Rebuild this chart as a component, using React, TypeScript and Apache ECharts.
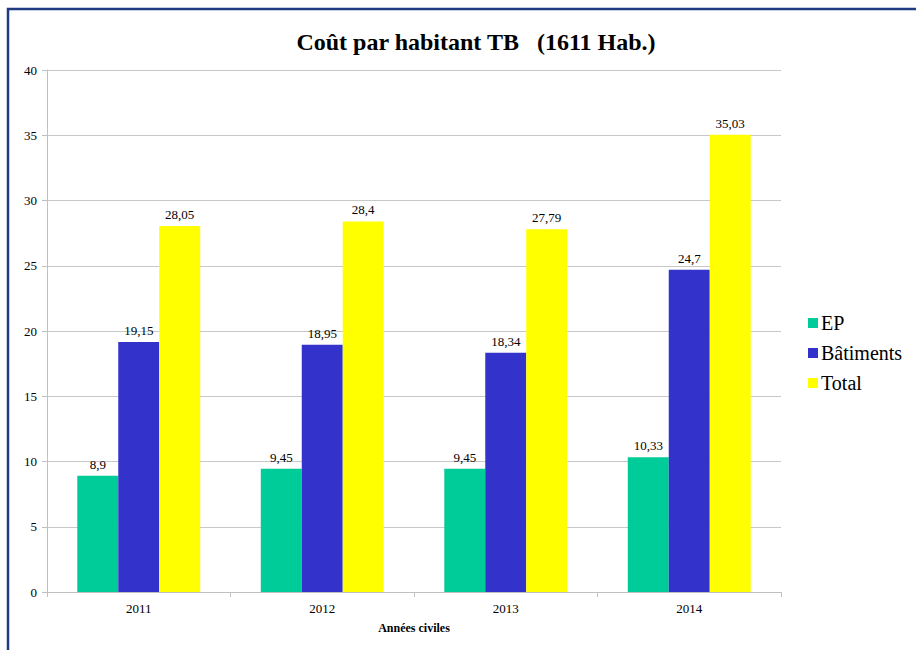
import React, { useEffect, useRef } from "react";
import * as echarts from "echarts";

const categories = ["2011", "2012", "2013", "2014"];
const epValues = [8.9, 9.45, 9.45, 10.33];
const batimentsValues = [19.15, 18.95, 18.34, 24.7];
const totalValues = [28.05, 28.4, 27.79, 35.03];
const seriesNames = ["EP", "Bâtiments", "Total"];
const seriesColors = ["#00CC99", "#3333CC", "#FFFF00"];

const FONT = "Times New Roman, Liberation Serif, DejaVu Serif, serif";

export default function App() {
  const ref = useRef<HTMLDivElement>(null);
  useEffect(() => {
    if (!ref.current) return;
    const chart = echarts.init(ref.current, undefined, { renderer: "svg" });
    const fmt = (p: any) => String(p.value).replace(".", ",");
    const dataSets = [epValues, batimentsValues, totalValues];
    chart.setOption({
      animation: false,
      backgroundColor: "#ffffff",
      textStyle: { fontFamily: FONT },
      title: {
        text: "Coût par habitant TB   (1611 Hab.)",
        left: 471,
        textAlign: "center",
        top: 25,
        textStyle: { fontFamily: FONT, fontSize: 24, fontWeight: "bold", color: "#000" },
      },
      graphic: [
        {
          type: "rect",
          shape: { x: 8, y: 9, width: 1000, height: 1000 },
          style: { fill: "none", stroke: "#1f3a80", lineWidth: 2.5 },
          silent: true,
        },
      ],
      legend: {
        orient: "vertical",
        left: 803,
        top: 308,
        itemWidth: 10,
        itemHeight: 10,
        itemGap: 10,
        icon: "rect",
        data: seriesNames,
        textStyle: { fontFamily: FONT, fontSize: 20, color: "#000", padding: [0, 0, 0, -2] },
      },
      grid: { left: 47, right: 135, top: 70, bottom: 58, containLabel: false },
      xAxis: {
        type: "category",
        data: categories,
        name: "Années civiles",
        nameLocation: "middle",
        nameGap: 30,
        nameTextStyle: { fontFamily: FONT, fontSize: 12, fontWeight: "bold", color: "#000" },
        axisLine: { lineStyle: { color: "#c0c0c0", width: 1 } },
        axisTick: { show: true, length: 5, lineStyle: { color: "#c0c0c0" } },
        axisLabel: { fontFamily: FONT, fontSize: 13, color: "#000", margin: 10 },
      },
      yAxis: {
        type: "value",
        min: 0,
        max: 40,
        interval: 5,
        axisLine: { show: true, lineStyle: { color: "#c0c0c0", width: 1 } },
        axisTick: { show: true, length: 5, lineStyle: { color: "#c0c0c0" } },
        axisLabel: { fontFamily: FONT, fontSize: 13, color: "#000", margin: 10 },
        splitLine: { lineStyle: { color: "#c8c8c8", width: 1 } },
      },
      series: seriesNames.map((name, i) => ({
        name,
        type: "bar",
        data: dataSets[i],
        barGap: "0%",
        barCategoryGap: "33%",
        itemStyle: { color: seriesColors[i] },
        label: {
          show: true,
          position: "top",
          distance: 5,
          formatter: fmt,
          fontFamily: FONT,
          fontSize: 13,
          color: "#000",
        },
      })),
    });
    return () => chart.dispose();
  }, []);
  return (
    <div
      ref={ref}
      style={{ position: "fixed", left: 0, top: 0, width: 916, height: 650 }}
    />
  );
}
